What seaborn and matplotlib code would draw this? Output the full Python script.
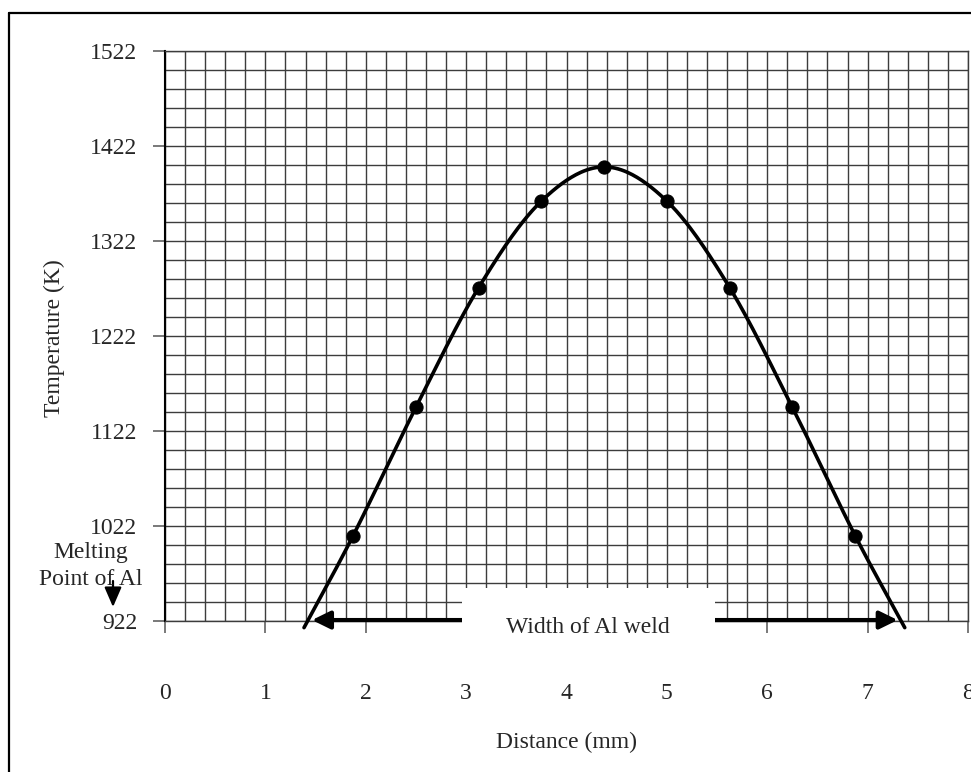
import numpy as np
import matplotlib
matplotlib.use("Agg")
import matplotlib.pyplot as plt
import seaborn as sns
from matplotlib.lines import Line2D
from matplotlib.patches import Rectangle
from matplotlib.ticker import MultipleLocator, FixedLocator

# ---- data ----
distance_mm = [1.875, 2.5, 3.125, 3.75, 4.375, 5.0, 5.625, 6.25, 6.875]
temperature_K = [1012, 1147, 1273, 1364, 1400, 1364, 1273, 1147, 1012]
# curve end points (where the smooth line meets the axis, no markers)
curve_start = (1.385, 915)
curve_end = (7.37, 915)
x_ticks = [0, 1, 2, 3, 4, 5, 6, 7, 8]
y_ticks = [922, 1022, 1122, 1222, 1322, 1422, 1522]
weld_left, weld_right = 1.464, 7.30
melting_T = 923

sns.set_style("white")
plt.rcParams['font.family'] = ['Liberation Serif', 'DejaVu Serif']
plt.rcParams['mathtext.fontset'] = 'stix'

W, H = 971, 772
fig = plt.figure(figsize=(W / 100, H / 100), dpi=100)
ax = fig.add_axes([165 / W, 1 - 621 / H, (968 - 165) / W, (621 - 51) / H])


def catmull_rom(xs, ys, n=40):
    P = np.column_stack([xs, ys]).astype(float)
    P = np.vstack([2 * P[0] - P[1], P, 2 * P[-1] - P[-2]])
    out = []
    for i in range(1, len(P) - 2):
        p0, p1, p2, p3 = P[i - 1], P[i], P[i + 1], P[i + 2]
        t = np.linspace(0, 1, n, endpoint=False)[:, None]
        seg = 0.5 * ((2 * p1) + (-p0 + p2) * t + (2 * p0 - 5 * p1 + 4 * p2 - p3) * t ** 2
                     + (-p0 + 3 * p1 - 3 * p2 + p3) * t ** 3)
        out.append(seg)
    out.append(P[-2][None, :])
    out = np.vstack(out)
    return out[:, 0], out[:, 1]


cx = [curve_start[0]] + distance_mm + [curve_end[0]]
cy = [curve_start[1]] + temperature_K + [curve_end[1]]
sx, sy = catmull_rom(cx, cy)

sns.lineplot(x=sx, y=sy, sort=False, ax=ax, color='black', lw=2.6, zorder=5,
             clip_on=False, estimator=None)
sns.scatterplot(x=distance_mm, y=temperature_K, ax=ax, color='black', s=90,
                edgecolor='black', zorder=6, clip_on=False)

ax.set_xlim(0, 8)
ax.set_ylim(922, 1522)
ax.xaxis.set_major_locator(FixedLocator(x_ticks))
ax.yaxis.set_major_locator(FixedLocator(y_ticks))
ax.xaxis.set_minor_locator(MultipleLocator(0.2))
ax.yaxis.set_minor_locator(MultipleLocator(20))
ax.set_yticks(np.arange(922, 1523, 20), minor=True)
ax.set_xticklabels([str(v) for v in x_ticks])
ax.set_yticklabels([str(v) for v in y_ticks])
ax.grid(which='both', color='#3c3c3c', lw=1.0)
ax.tick_params(which='minor', length=0)
ax.tick_params(axis='x', which='major', direction='out', length=8.6, width=1.1,
               color='#555555', pad=36, labelsize=17, bottom=True)
ax.tick_params(axis='y', which='major', direction='out', length=8.6, width=1.1,
               color='#555555', pad=11.5, labelsize=17, left=True)
for s in ['top', 'right', 'bottom']:
    ax.spines[s].set_color('#3c3c3c')
    ax.spines[s].set_linewidth(1.0)
ax.spines['left'].set_color('black')
ax.spines['left'].set_linewidth(1.5)
ax.set_xlabel('')
ax.set_ylabel('')

# white label box covering the middle of the bottom
ax.add_patch(Rectangle((2.96, 897), 5.48 - 2.96, 957 - 897, facecolor='white',
                       edgecolor='none', zorder=3, clip_on=False))
ax.text(4.213, 909.4, 'Width of Al weld', ha='center', va='baseline', fontsize=17,
        zorder=4)

# double arrow showing the weld width
arrow_kw = dict(arrowstyle='-|>,head_length=0.55,head_width=0.27', color='black',
                lw=3.0, shrinkA=0, shrinkB=0, mutation_scale=20)
ax.annotate('', xy=(weld_left, melting_T), xytext=(2.96, melting_T),
            arrowprops=arrow_kw, zorder=2.9, annotation_clip=False)
ax.annotate('', xy=(weld_right, melting_T), xytext=(5.48, melting_T),
            arrowprops=arrow_kw, zorder=2.9, annotation_clip=False)

# axis titles
fig.text(566 / W, 1 - 742 / H, 'Distance (mm)', ha='center', va='center', fontsize=17)
fig.text(54 / W, 1 - 338 / H, 'Temperature (K)', ha='center', va='center',
         rotation=90, fontsize=17)

# melting point note
fig.text(91 / W, 1 - 558 / H, 'Melting', ha='center', va='baseline', fontsize=17)
fig.text(91 / W, 1 - 585 / H, 'Point of Al', ha='center', va='baseline', fontsize=17)
fig.add_artist(matplotlib.patches.FancyArrowPatch(
    (113 / W, 1 - 581 / H), (113 / W, 1 - 607 / H), transform=fig.transFigure,
    arrowstyle='-|>,head_length=0.6,head_width=0.26', mutation_scale=20,
    color='black', lw=1.6, shrinkA=0, shrinkB=0))

# outer frame (left and top edges visible)
fig.add_artist(Line2D([8.5 / W, 8.5 / W], [0, 1 - 12.5 / H], transform=fig.transFigure,
                      color='black', lw=1.6))
fig.add_artist(Line2D([8.5 / W, 1], [1 - 12.5 / H, 1 - 12.5 / H], transform=fig.transFigure,
                      color='black', lw=1.6))

fig.savefig('out.png', dpi=100)
